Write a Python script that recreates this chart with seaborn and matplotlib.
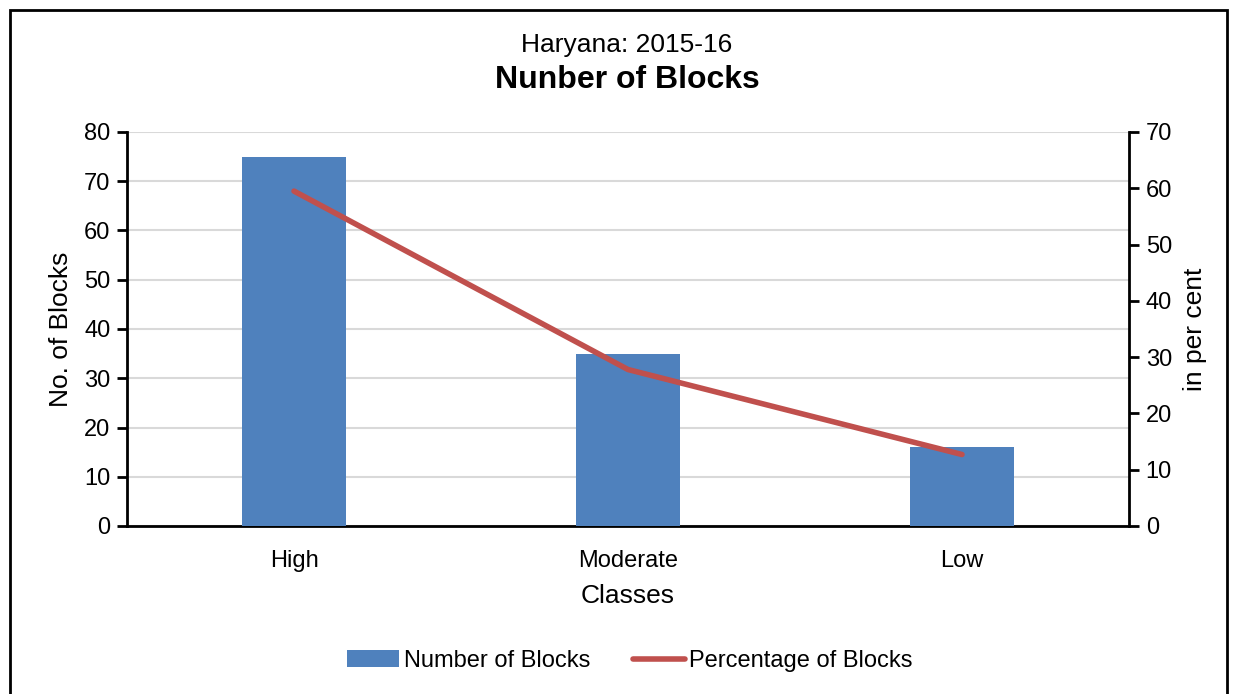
import matplotlib
matplotlib.use("Agg")
import matplotlib.pyplot as plt
from matplotlib.patches import Rectangle, Patch
from matplotlib.lines import Line2D
import seaborn as sns
import pandas as pd

classes = ["High", "Moderate", "Low"]
num_blocks = [75, 35, 16]
pct_blocks = [59.5, 27.8, 12.7]

sns.set_theme(style="white")
plt.rcParams["font.family"] = ["Liberation Sans", "DejaVu Sans"]
plt.rcParams["text.color"] = "black"

BAR_COLOR = "#4F81BD"
LINE_COLOR = "#C0504D"
TICK_FS = 17
LABEL_FS = 19

fig = plt.figure(figsize=(12.37, 6.94), dpi=100)
ax = fig.add_axes([127 / 1237, 1 - 526 / 694, (1129 - 127) / 1237, (526 - 132) / 694])

df = pd.DataFrame({"Classes": classes, "Blocks": num_blocks, "Pct": pct_blocks})

sns.barplot(data=df, x="Classes", y="Blocks", color=BAR_COLOR, width=0.31,
            saturation=1, linewidth=0, ax=ax, zorder=3)
ax.set_xlim(-0.5, 2.5)
ax.set_ylim(0, 80)
ax.set_yticks(range(0, 81, 10))
ax.yaxis.grid(True, color="#D9D9D9", linewidth=1.5, zorder=0)
ax.set_axisbelow(True)

ax2 = ax.twinx()
sns.lineplot(data=df, x="Classes", y="Pct", color=LINE_COLOR, linewidth=4,
             solid_capstyle="round", ax=ax2, sort=False)
ax2.set_ylim(0, 70)
ax2.set_yticks(range(0, 71, 10))
ax2.set_xlim(-0.5, 2.5)

ax.spines["top"].set_visible(False)
ax2.spines["top"].set_visible(False)
ax.spines["right"].set_visible(False)
ax2.spines["left"].set_visible(False)
ax2.spines["bottom"].set_visible(False)
for sp in (ax.spines["left"], ax.spines["bottom"], ax2.spines["right"]):
    sp.set_color("black")
    sp.set_linewidth(2)

ax.tick_params(axis="y", left=True, length=7, width=2, color="black",
               labelsize=TICK_FS, labelcolor="black", pad=5)
ax.tick_params(axis="x", bottom=False, labelsize=TICK_FS, labelcolor="black", pad=11)
ax2.tick_params(axis="y", right=True, length=7, width=2, color="black",
                labelsize=TICK_FS, labelcolor="black", pad=5)

ax.set_xlabel("Classes", fontsize=LABEL_FS, color="black", labelpad=9)
ax.set_ylabel("No. of Blocks", fontsize=LABEL_FS, color="black", labelpad=8)
ax2.set_ylabel("in per cent", fontsize=LABEL_FS, color="black", labelpad=8)

fig.text(627 / 1237, 1 - 45 / 694, "Haryana: 2015-16", ha="center", va="center",
         fontsize=19, color="black")
fig.text(627 / 1237, 1 - 80 / 694, "Nunber of Blocks", ha="center", va="center",
         fontsize=23, fontweight="bold", color="black")

handles = [Patch(facecolor=BAR_COLOR, edgecolor="none"),
           Line2D([0], [0], color=LINE_COLOR, linewidth=4, solid_capstyle="round")]
leg = fig.legend(handles, ["Number of Blocks", "Percentage of Blocks"], loc="center",
                 bbox_to_anchor=(630 / 1237, 1 - 661 / 694), ncol=2, frameon=False,
                 fontsize=TICK_FS, handlelength=2.2, handletextpad=0.2,
                 columnspacing=1.8)
for t in leg.get_texts():
    t.set_color("black")

fig.patches.append(Rectangle((10 / 1237, -0.05), (1227 - 10) / 1237, 1 - 10 / 694 + 0.05,
                             transform=fig.transFigure, fill=False, edgecolor="black",
                             linewidth=2))

fig.savefig("out.png", dpi=100, facecolor="white")
